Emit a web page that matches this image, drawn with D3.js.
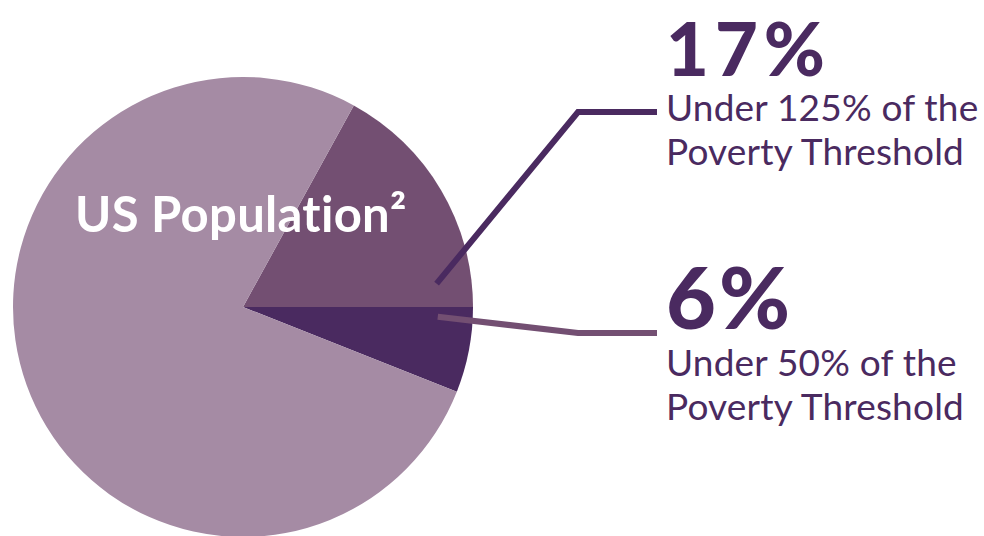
<!DOCTYPE html>
<html>
<head>
<meta charset="utf-8">
<script src="https://cdn.jsdelivr.net/npm/d3@7"></script>
<style>
  html, body { margin: 0; padding: 0; background: #fff; }
  svg { display: block; }
</style>
</head>
<body>
<svg id="chart" width="984" height="536"></svg>
<script>
// Share of the US population by poverty-threshold band (percent)
const categories = ["Under 125%", "Under 50%", "Rest of population"];
const shares = [17, 6, 77];
const bigLabels = ["17%", "6%"];
const descLines = [
  ["Under 125% of the", "Poverty Threshold"],
  ["Under 50% of the", "Poverty Threshold"]
];
const centerTitle = "US Population²";

const sliceColors = ["#734f72", "#4a2a60", "#a58ba4"];
const lineColors = ["#4a2a60", "#734f72"];
const textColor = "#4a2a60";

const svg = d3.select("#chart");
const cx = 243, cy = 307, radius = 230;

// First slice ends at 3 o'clock; the next one starts there going clockwise
const startAngle = Math.PI / 2 - (shares[0] / 100) * 2 * Math.PI;
const pie = d3.pie().sort(null).value(d => d)
  .startAngle(startAngle).endAngle(startAngle + 2 * Math.PI);
const arc = d3.arc().innerRadius(0).outerRadius(radius);

const g = svg.append("g").attr("transform", `translate(${cx},${cy})`);
const arcs = pie(shares);
g.selectAll("path.slice")
  .data(arcs)
  .join("path")
  .attr("class", "slice")
  .attr("d", arc)
  .attr("fill", (d, i) => sliceColors[i]);

// Leader lines from inside each small slice out to its label
const leaderStartR = 195;
const leaderAngles = [
  arcs[0].endAngle - 0.12,
  arcs[1].startAngle + 0.05
];
const elbowX = 578, endX = 657;
const labelAnchorY = [112, 333];
const line = d3.line();
leaderAngles.forEach((a, i) => {
  const x0 = cx + leaderStartR * Math.sin(a);
  const y0 = cy - leaderStartR * Math.cos(a);
  svg.append("path")
    .attr("d", line([[x0, y0], [elbowX, labelAnchorY[i]], [endX, labelAnchorY[i]]]))
    .attr("fill", "none")
    .attr("stroke", lineColors[i])
    .attr("stroke-width", 6)
    .attr("stroke-linejoin", "miter");
});

// Percent figures and their descriptions
const textX = 666;
const bigY = [76, 329];
const bigSize = [74, 86];
const bigSpacing = [6, 3];
const descY = [[121, 165], [376, 420]];
bigLabels.forEach((t, i) => {
  svg.append("text")
    .attr("x", textX).attr("y", bigY[i])
    .attr("font-family", "Lato, sans-serif")
    .attr("font-weight", 900)
    .attr("font-size", bigSize[i])
    .attr("letter-spacing", bigSpacing[i])
    .attr("fill", textColor)
    .text(t);
  descLines[i].forEach((s, j) => {
    svg.append("text")
      .attr("x", textX).attr("y", descY[i][j])
      .attr("font-family", "Lato, sans-serif")
      .attr("font-weight", 400)
      .attr("font-size", 37)
      .attr("letter-spacing", 0.2)
      .attr("fill", textColor)
      .text(s);
  });
});

svg.append("text")
  .attr("x", 75).attr("y", 232)
  .attr("font-family", "Lato, sans-serif")
  .attr("font-weight", 700)
  .attr("font-size", 49)
  .attr("letter-spacing", 0.3)
  .attr("fill", "#ffffff")
  .text(centerTitle);
</script>
</body>
</html>
